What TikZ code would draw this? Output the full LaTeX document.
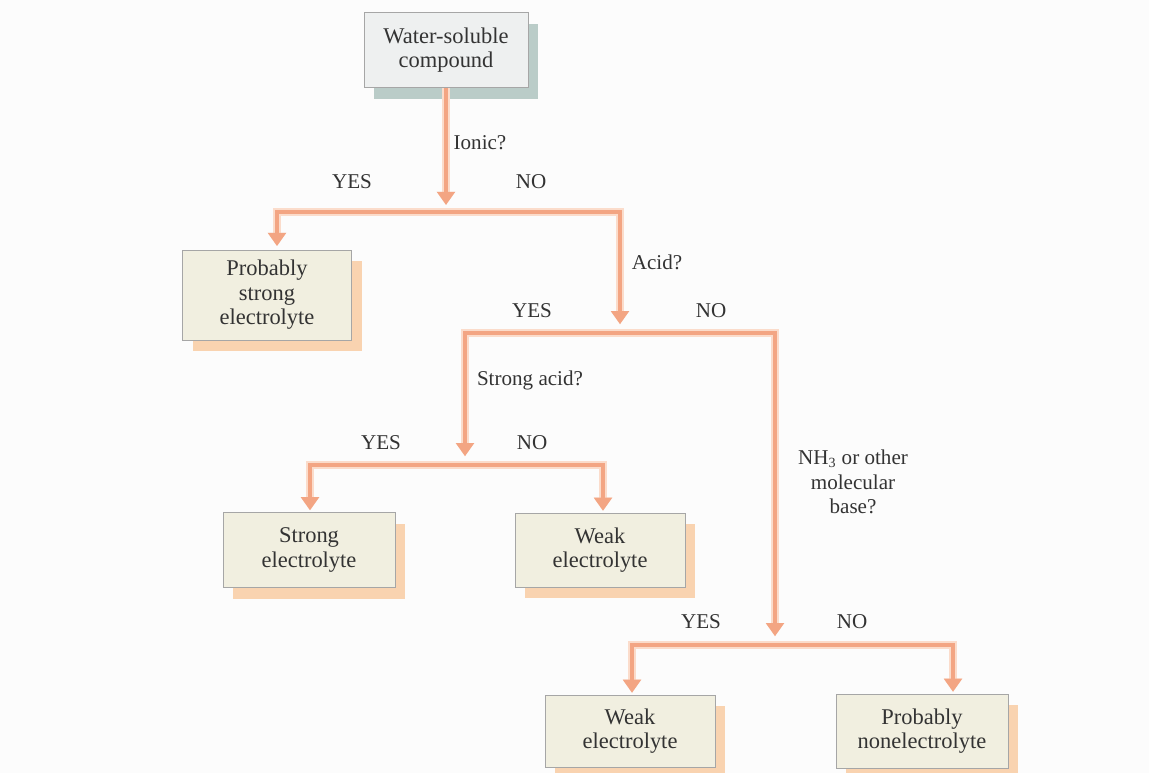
\documentclass[tikz,border=0pt]{standalone}
\usepackage{fontspec}
\setmainfont{Liberation Serif}
\usetikzlibrary{arrows.meta,shadows}
\definecolor{pipecol}{HTML}{F3A583}
\definecolor{pipepale}{HTML}{FBDCCB}
\definecolor{boxfill}{HTML}{F1EFE0}
\definecolor{topfill}{HTML}{EEF0F0}
\definecolor{shadowor}{HTML}{F9D3B0}
\definecolor{shadowgr}{HTML}{BACCC8}
\definecolor{inkcol}{HTML}{333333}
\definecolor{bgcol}{HTML}{FCFCFC}

\begin{document}
\begin{tikzpicture}[
    x=0.02cm, y=-0.02cm,
    font=\fontsize{12pt}{14pt}\selectfont, text=inkcol,
    box/.style={rectangle, draw=gray!70, line width=0.5pt, fill=boxfill,
                align=center, inner sep=2pt,
                font=\fontsize{12.8pt}{14pt}\selectfont,
                drop shadow={shadow xshift=5.7pt, shadow yshift=-6.3pt,
                             fill=shadowor, opacity=1}},
    topbox/.style={box, fill=topfill,
                drop shadow={shadow xshift=5.7pt, shadow yshift=-6.3pt,
                             fill=shadowgr, opacity=1}},
    pipe/.style={-{Triangle[width=10pt,length=7.5pt]}, line width=2.8pt, draw=pipecol,
                 preaction={draw=pipepale, line width=4.5pt}},
    tag/.style={inner sep=1pt}
]
\fill[bgcol] (0,0) rectangle (1149,773);
\useasboundingbox (0,0) rectangle (1149,773);

\node (wsc) [topbox, minimum width=3.28cm, minimum height=1.5cm] at (446,50) {Water-soluble\\compound};
\node (pse) [box, minimum width=3.38cm, minimum height=1.8cm] at (267,295) {Probably\\strong\\electrolyte};
\node (se) [box, minimum width=3.44cm, minimum height=1.5cm] at (309,550) {Strong\\electrolyte};
\node (we1) [box, minimum width=3.4cm, minimum height=1.48cm] at (600,550) {Weak\\electrolyte};
\node (we2) [box, minimum width=3.4cm, minimum height=1.44cm] at (630,731) {Weak\\electrolyte};
\node (pne) [box, minimum width=3.44cm, minimum height=1.48cm] at (922,731) {Probably\\nonelectrolyte};

\coordinate (q1) at (446,212);
\coordinate (b1l) at (277,212);
\coordinate (b1r) at (620,212);
\coordinate (q2) at (620,333);
\coordinate (b2l) at (465,333);
\coordinate (b2r) at (775,333);
\coordinate (q3) at (465,465);
\coordinate (b3l) at (310,465);
\coordinate (b3r) at (603,465);
\coordinate (q4) at (775,645);
\coordinate (b4l) at (632,645);
\coordinate (b4r) at (953,645);

\draw [pipe, shorten >=4pt] (wsc) -- (q1);
\draw [pipe, shorten >=2pt] (q1) -- (b1l) -- (b1l |- pse.north);
\draw [pipe, shorten >=5pt] (q1) -- (b1r) -- (q2);
\draw [pipe, shorten >=5pt] (q2) -- (b2l) -- (q3);
\draw [pipe, shorten >=5pt] (q2) -- (b2r) -- (q4);
\draw [pipe, shorten >=1pt] (q3) -- (b3l) -- (b3l |- se.north);
\draw [pipe, shorten >=1pt] (q3) -- (b3r) -- (b3r |- we1.north);
\draw [pipe, shorten >=1pt] (q4) -- (b4l) -- (b4l |- we2.north);
\draw [pipe, shorten >=1pt] (q4) -- (b4r) -- (b4r |- pne.north);

\node (ionic) [tag] at (480,143) {Ionic?};
\node (yes1) [tag] at (352,182) {YES};
\node (no1) [tag] at (531,182) {NO};
\node (acid) [tag] at (657,262) {Acid?};
\node (yes2) [tag] at (532,311) {YES};
\node (no2) [tag] at (711,311) {NO};
\node (sacid) [tag] at (530,380) {Strong acid?};
\node (yes3) [tag] at (381,443) {YES};
\node (no3) [tag] at (532,443) {NO};
\node (base) [tag, align=center] at (853,482) {NH\textsubscript{3} or other\\molecular\\base?};
\node (yes4) [tag] at (701,622) {YES};
\node (no4) [tag] at (852,622) {NO};

\end{tikzpicture}
\end{document}
